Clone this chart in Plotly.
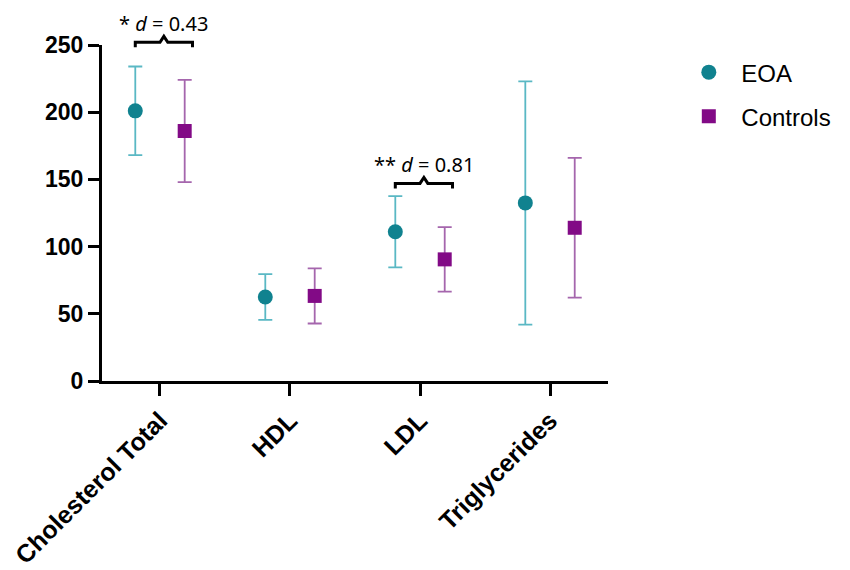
import plotly.graph_objects as go

# lipid panel, mean +/- SD
categories = ["Cholesterol Total", "HDL", "LDL", "Triglycerides"]
eoa_mean = [201, 62.5, 111, 132.5]
eoa_sd = [33, 17, 26.5, 90.5]
ctrl_mean = [186, 63.3, 90.5, 114]
ctrl_sd = [38, 20.5, 24, 52]

# significance brackets: (category index, label)
sig_pairs = [(0, "* <i>d</i> = 0.43"), (2, "** <i>d</i> = 0.81")]
bracket_level = [252, 147]

y_ticks = [0, 50, 100, 150, 200, 250]
y_max = 250
offset = 0.19

teal = "#10828F"
teal_bar = "#5AB8C4"
purple = "#820A86"
purple_bar = "#A566AD"

idx = list(range(len(categories)))
x_eoa = [i - offset for i in idx]
x_ctrl = [i + offset for i in idx]

fig = go.Figure()

fig.add_trace(go.Scatter(
    x=x_eoa, y=eoa_mean, mode="markers", name="EOA",
    marker=dict(symbol="circle", size=15, color=teal),
    error_y=dict(type="data", array=eoa_sd, color=teal_bar, thickness=1.8, width=7),
    legendgroup="a",
))
fig.add_trace(go.Scatter(
    x=x_ctrl, y=ctrl_mean, mode="markers", name="Controls",
    marker=dict(symbol="square", size=14, color=purple),
    error_y=dict(type="data", array=ctrl_sd, color=purple_bar, thickness=1.8, width=7),
    legendgroup="b",
))

# brackets + effect size labels (y in paper units so they can sit above the axis top)
plot_h = 336
for (i, label), lvl in zip(sig_pairs, bracket_level):
    x0 = x_eoa[i]
    x1 = x_ctrl[i] + 0.06
    xm = (x0 + x1) / 2
    yb = lvl / y_max
    drop = 5 / plot_h
    bump = 6 / plot_h
    path = (f"M {x0},{yb - drop} L {x0},{yb} L {xm - 0.03},{yb} "
            f"L {xm},{yb + bump} L {xm + 0.03},{yb} L {x1},{yb} L {x1},{yb - drop}")
    fig.add_shape(type="path", path=path, xref="x", yref="paper",
                  line=dict(color="black", width=3))
    fig.add_annotation(x=xm, y=yb + 19 / plot_h, xref="x", yref="paper",
                       xanchor="center", yanchor="middle",
                       text=label, showarrow=False,
                       font=dict(family="Noto Sans", size=20, color="black"))

# page body adds an 8px offset, so the figure is a bit smaller than the window
fig.update_layout(
    width=842, height=562,
    margin=dict(l=94, r=242, t=37, b=189, autoexpand=False),
    plot_bgcolor="white", paper_bgcolor="white",
    font=dict(family="Liberation Sans", color="black"),
    legend=dict(x=1.135, y=0.985, xanchor="left", yanchor="top",
                font=dict(size=24, family="Liberation Sans", color="black"),
                tracegroupgap=10, itemwidth=55),
    xaxis=dict(
        range=[-0.446, len(categories) - 1 + 0.446],
        tickvals=idx, ticktext=categories, tickangle=-45,
        showgrid=False, zeroline=False,
        showline=True, linecolor="black", linewidth=3,
        ticks="outside", ticklen=12, tickwidth=3, tickcolor="black",
        tickfont=dict(size=25, family="Liberation Sans", weight="bold"),
    ),
    yaxis=dict(
        range=[0, y_max], tickvals=y_ticks,
        showgrid=False, zeroline=False,
        showline=True, linecolor="black", linewidth=3,
        ticks="outside", ticklen=11, tickwidth=3, tickcolor="black",
        tickfont=dict(size=23, family="Liberation Sans", weight="bold"),
    ),
)

fig.write_html("out.html")
